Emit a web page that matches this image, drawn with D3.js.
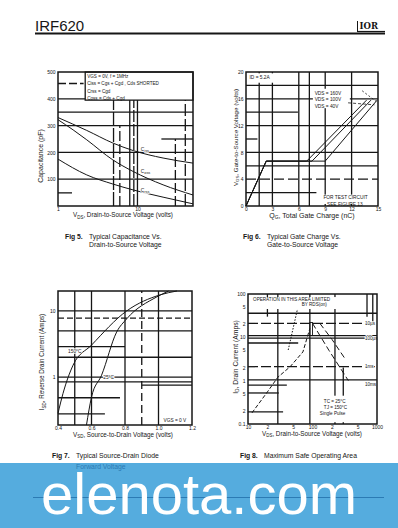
<!DOCTYPE html>
<html>
<head>
<meta charset="utf-8">
<script src="https://cdn.jsdelivr.net/npm/d3@7"></script>
<style>
  body { margin: 0; background: #fff; }
  svg { display: block; font-family: "Liberation Sans", Arial, sans-serif; }
</style>
</head>
<body>
<svg id="page" width="398" height="528"></svg>
<script>
// Fig 5 - capacitance vs drain-source voltage (pF)
const capVds = [1, 2.3, 4.9, 8.8, 21, 50];
const cissPf = [330, 282, 235, 207, 179, 160];
const cossVds = [1, 1.55, 2.3, 4.9, 8.8, 21, 50];
const cossPf = [322, 284, 247, 172, 129, 79, 41];
const crssPf = [175, 116, 82, 60, 33, 8];
const capTicks = [100, 200, 300, 400, 500];
const capVdsTicks = [1, 10];
const capLegend = ["VGS = 0V,   f = 1MHz", "Ciss = Cgs + Cgd ,  Cds SHORTED", "Crss = Cgd", "Coss = Cds + Cgd"];

// Fig 6 - gate charge
const gateQ40 = [0, 2.3, 6.9, 13.7];
const gateQ100 = [0, 2.3, 7.5, 14.2];
const gateQ160 = [0, 2.3, 9.0, 14.9];
const gateVgs = [0, 6.7, 6.7, 15.8];
const gateQTicks = [0, 3, 6, 9, 12, 15];
const gateVTicks = [0, 4, 8, 12, 16, 20];
const gateLegend = ["VDS = 160V", "VDS = 100V", "VDS = 40V"];

// Fig 7 - source-drain diode
const vsd150 = [0.40, 0.43, 0.49, 0.60, 0.81, 1.01, 1.11];
const isd150 = [0.285, 0.57, 1.52, 3.05, 10, 17.5, 20];
const vsd25 = [0.57, 0.60, 0.66, 0.75, 0.81, 0.99, 1.06];
const isd25 = [0.19, 0.50, 1.07, 4.8, 7.6, 16.3, 20];
const vsdTicks = [0.4, 0.6, 0.8, 1.0, 1.2];
const isdTicks = [1, 10];

// Fig 8 - safe operating area
const soaLimitV = [11.5, 20, 29, 45, 71, 91];
const soaLimitI = [0.18, 0.55, 1.2, 2.1, 4.6, 16];
const soaEdgeV = [42, 64];
const soaEdgeI = [5.1, 81];
const soa100usV = [100, 180, 360];
const soa100usI = [21, 5, 1.0];
const soa1msV = [130, 200, 320];
const soa1msI = [21, 9, 3.2];
const soaXTicks = [10, 20, 50, 100, 200, 500, 1000];
const soaXLabels = ["10", "2", "5", "100", "2", "5", "1000"];
const soaYTicks = [0.1, 0.2, 0.5, 1, 2, 5, 10, 20, 50, 100];
const soaYLabels = ["0.1", "2", "5", "1", "2", "5", "10", "2", "5", "100"];
const soaPulses = ["10µs", "100µs", "1ms", "10ms"];

const svg = d3.select("#page");
const ink = "#161616";

// grid entries: a number = full line, [value, from, to, dash] = segment
function grid(g, x, y, vert, horiz) {
  const norm = (d, dom) => Array.isArray(d)
    ? {v: d[0], a: d[1] ?? dom[0], b: d[2] ?? dom[1], dash: d[3]}
    : {v: d, a: dom[0], b: dom[1]};
  g.selectAll(null).data(vert.map(d => norm(d, y.domain()))).join("line")
    .attr("x1", d => x(d.v)).attr("x2", d => x(d.v))
    .attr("y1", d => y(d.a)).attr("y2", d => y(d.b))
    .attr("stroke", ink).attr("stroke-width", 1.3)
    .attr("stroke-dasharray", d => d.dash || null);
  g.selectAll(null).data(horiz.map(d => norm(d, x.domain()))).join("line")
    .attr("y1", d => y(d.v)).attr("y2", d => y(d.v))
    .attr("x1", d => x(d.a)).attr("x2", d => x(d.b))
    .attr("stroke", ink).attr("stroke-width", 1.3)
    .attr("stroke-dasharray", d => d.dash || null);
}

function frame(g, x, y) {
  const [x0, x1] = x.range(), [y0, y1] = y.range();
  g.append("rect").attr("x", x0).attr("y", y1)
    .attr("width", x1 - x0).attr("height", y0 - y1)
    .attr("fill", "none").attr("stroke", ink).attr("stroke-width", 1.5);
}

function axes(g, x, y, xt, xl, yt, yl) {
  g.append("g").attr("transform", `translate(0,${y.range()[0]})`)
    .call(d3.axisBottom(x).tickValues(xt).tickFormat((d, i) => xl[i]).tickSize(0).tickPadding(1));
  g.append("g").attr("transform", `translate(${x.range()[0]},0)`)
    .call(d3.axisLeft(y).tickValues(yt).tickFormat((d, i) => yl[i]).tickSize(0).tickPadding(2.5));
  g.selectAll(".domain").remove();
  g.selectAll(".tick text").attr("font-size", 5).attr("fill", ink)
    .attr("font-family", "Liberation Sans, Arial, sans-serif");
}

function subLabel(g, px, py, main, sub, rest, size, rotate) {
  const t = g.append("text").attr("font-size", size).attr("text-anchor", "middle").attr("fill", ink)
    .attr("transform", `translate(${px},${py})` + (rotate ? " rotate(-90)" : ""));
  t.append("tspan").text(main);
  if (sub) t.append("tspan").attr("font-size", size * 0.7).attr("dy", size * 0.25).text(sub);
  t.append("tspan").attr("dy", sub ? -size * 0.25 : 0).text(rest);
}

function caption(num, px, py, lines) {
  const g = svg.append("g").attr("font-size", 6.8).attr("fill", ink);
  g.append("text").attr("x", px).attr("y", py).attr("font-weight", "bold").text(`Fig ${num}.`);
  lines.forEach((s, i) => g.append("text").attr("x", px + 24).attr("y", py + i * 8.5).text(s));
}

function tiny(g, px, py, s, size = 4.8, anchor = "start") {
  return g.append("text").attr("x", px).attr("y", py).attr("font-size", size)
    .attr("text-anchor", anchor).attr("fill", ink).text(s);
}

// ---------- header ----------
svg.append("text").attr("x", 35).attr("y", 30.5).attr("font-size", 15).attr("fill", ink).text("IRF620");
svg.append("line").attr("x1", 35).attr("x2", 385).attr("y1", 33.5).attr("y2", 33.5)
  .attr("stroke", ink).attr("stroke-width", 2);
const logo = svg.append("g");
logo.append("line").attr("x1", 357.5).attr("x2", 357.5).attr("y1", 21).attr("y2", 31).attr("stroke", ink).attr("stroke-width", 1);
logo.append("text").attr("x", 359.5).attr("y", 29).attr("font-size", 8.5).attr("font-weight", "bold")
  .attr("font-family", "DejaVu Serif, serif").attr("fill", ink).text("IOR");
logo.append("line").attr("x1", 357).attr("x2", 385).attr("y1", 31.5).attr("y2", 31.5).attr("stroke", ink).attr("stroke-width", 1.2);

// ---------- Fig 5 ----------
{
  const g = svg.append("g");
  const x = d3.scaleLog([1, 50], [58, 193]);
  const y = d3.scaleLinear([0, 500], [206, 72]);
  grid(g, x, y,
    [[5, 0, 400, "14,2"], [6, 0, 300, "10,3"], [8, 0, 400], [9, 0, 400, "12,2"], [10, 0, 400], [30, 0, 250, "10,3"], [40, 0, 400, "12,3"]],
    [100, 200, 300, 350, 400, [457, 1, 2.1, "8,3"], [250, 20, 50], [49, 1, 1.5]]);
  // legend box
  g.append("rect").attr("x", x(2.2)).attr("y", y(500)).attr("width", x(50) - x(2.2)).attr("height", y(395) - y(500))
    .attr("fill", "#fff").attr("stroke", ink).attr("stroke-width", 1.3);
  capLegend.forEach((s, i) => tiny(g, x(2.2) + 2, y(500) + 6 + i * 7.4, s, 4.6));
  const line = d3.line().x(d => x(d[0])).y(d => y(d[1])).curve(d3.curveMonotoneX);
  [d3.zip(capVds, cissPf), d3.zip(cossVds, cossPf), d3.zip(capVds, crssPf)].forEach(s =>
    g.append("path").attr("d", line(s)).attr("fill", "none").attr("stroke", ink).attr("stroke-width", 1));
  [["C", "iss", 205], ["C", "oss", 125], ["C", "rss", 52]].forEach(([a, b, v]) => {
    const t = g.append("text").attr("x", x(11)).attr("y", y(v)).attr("font-size", 5).attr("fill", ink)
      .attr("stroke", "#fff").attr("stroke-width", 1.5).attr("paint-order", "stroke");
    t.append("tspan").text(a);
    t.append("tspan").attr("font-size", 3.8).attr("dy", 1).text(b);
  });
  frame(g, x, y);
  axes(g, x, y, capVdsTicks, ["1", "10"], capTicks, capTicks.map(String));
  subLabel(g, 43, 156, "Capacitance (pF)", "", "", 7, true);
  subLabel(g, 123, 217, "V", "DS", ", Drain-to-Source Voltage (volts)", 6.3, false);
  caption(5, 65, 238.5, ["Typical Capacitance Vs.", "Drain-to-Source Voltage"]);
}

// ---------- Fig 6 ----------
{
  const g = svg.append("g");
  const x = d3.scaleLinear([0, 15], [246, 378]);
  const y = d3.scaleLinear([0, 20], [206, 72]);
  grid(g, x, y, [1.5, 3, 6, 7.2, 9, 12],
    [6, 8, 12, 16, 18, [4, 0, 15, "10,4"], [14, 0, 5.9], [10, 0, 1.3], [2, 0, 8]]);
  // label backgrounds
  g.append("rect").attr("x", x(7.6)).attr("y", y(17.5)).attr("width", x(11.8) - x(7.6)).attr("height", y(14.6) - y(17.5)).attr("fill", "#fff");
  g.append("rect").attr("x", x(8.5)).attr("y", y(1.7)).attr("width", x(14.5) - x(8.5)).attr("height", y(0.3) - y(1.7)).attr("fill", "#fff");
  g.append("rect").attr("x", x(0.3)).attr("y", y(19.8)).attr("width", x(4) - x(0.3)).attr("height", y(18.4) - y(19.8)).attr("fill", "#fff");
  const line = d3.line().x(d => x(d[0])).y(d => y(d[1]));
  [gateQ40, gateQ100, gateQ160].forEach(q =>
    g.append("path").attr("d", line(d3.zip(q, gateVgs))).attr("fill", "none").attr("stroke", ink).attr("stroke-width", 1));
  g.append("path").attr("d", line([[11.6, 15.4], [14.6, 15.1]])).attr("fill", "none")
    .attr("stroke", ink).attr("stroke-width", 0.8).attr("stroke-dasharray", "3,2");
  g.append("path").attr("d", line([[13.2, 17.2], [14.8, 15.6]])).attr("fill", "none")
    .attr("stroke", ink).attr("stroke-width", 0.8).attr("stroke-dasharray", "2,2");
  tiny(g, x(0.4), y(19.0), "ID = 5.2A", 4.8);
  gateLegend.forEach((s, i) => tiny(g, x(7.8), y(16.6) + i * 6.5, s, 4.8));
  tiny(g, x(8.8), y(1.0), "FOR TEST CIRCUIT", 4.8);
  tiny(g, x(9.2), y(0.5) + 3, "SEE FIGURE 13", 4.8);
  frame(g, x, y);
  axes(g, x, y, gateQTicks, gateQTicks.map(String), gateVTicks, gateVTicks.map(String));
  subLabel(g, 237.5, 137.5, "V", "GS", ", Gate-to-Source Voltage (volts)", 6.2, true);
  subLabel(g, 312, 217.5, "Q", "G", ", Total Gate Charge (nC)", 7, false);
  caption(6, 243, 238.5, ["Typical Gate Charge Vs.", "Gate-to-Source Voltage"]);
}

// ---------- Fig 7 ----------
{
  const g = svg.append("g");
  const x = d3.scaleLinear([0.4, 1.2], [58, 192]);
  const y = d3.scaleLog([0.19, 20], [425, 291]);
  grid(g, x, y, [0.5, 0.6, 0.8, 1.0, [0.9, 0.19, 20, "8,4"]],
    [10, 5, 2, 1, 0.85, [7.8, 0.4, 1.2, "6,3"], [2.9, 0.4, 0.8], [0.76, 0.9, 1.2], [0.49, 0.4, 0.77], [0.28, 0.4, 0.68]]);
  const line = d3.line().x(d => x(d[0])).y(d => y(d[1])).curve(d3.curveMonotoneX);
  [d3.zip(vsd150, isd150), d3.zip(vsd25, isd25)].forEach(s =>
    g.append("path").attr("d", line(s)).attr("fill", "none").attr("stroke", ink).attr("stroke-width", 1));
  tiny(g, x(0.46), y(2.3), "150°C", 4.8).attr("stroke", "#fff").attr("stroke-width", 1.5).attr("paint-order", "stroke");
  tiny(g, x(0.67), y(0.95), "25°C", 4.8).attr("stroke", "#fff").attr("stroke-width", 1.5).attr("paint-order", "stroke");
  g.append("rect").attr("x", x(1.02)).attr("y", y(0.27)).attr("width", x(1.19) - x(1.02)).attr("height", y(0.2) - y(0.27)).attr("fill", "#fff");
  tiny(g, x(1.03), y(0.2) - 1.5, "VGS = 0 V", 4.8);
  frame(g, x, y);
  axes(g, x, y, vsdTicks, vsdTicks.map(d => d.toFixed(1)), isdTicks, ["1", "10"]);
  subLabel(g, 44, 362, "I", "SD", ", Reverse Drain Current (Amps)", 6.3, true);
  subLabel(g, 123, 436.5, "V", "SD", ", Source-to-Drain Voltage (volts)", 6.3, false);
  caption(7, 52, 458, ["Typical Source-Drain Diode"]);
}

// ---------- Fig 8 ----------
{
  const g = svg.append("g");
  const x = d3.scaleLog([10, 1000], [248, 377]);
  const y = d3.scaleLog([0.1, 100], [424, 294]);
  grid(g, x, y, [29, 91, 223, [20, 30, 100], [700, 30, 100], [860, 20, 100], [300, 0.1, 2]],
    [36, 11, 9.6, 1.04, [21, 10, 1000, "10,3"], [2.1, 10, 1000, "10,3"], [7.4, 10, 60], [0.79, 10, 40], [0.52, 10, 30], [0.19, 10, 35]]);
  const line = d3.line().x(d => x(d[0])).y(d => y(d[1]));
  const curve = (v, i, dash) => g.append("path").attr("d", line(d3.zip(v, i))).attr("fill", "none")
    .attr("stroke", ink).attr("stroke-width", 1).attr("stroke-dasharray", dash);
  curve(soaLimitV, soaLimitI, "4,2");
  curve(soaEdgeV, soaEdgeI, "1.5,1.5");
  curve(soa100usV, soa100usI, "6,3");
  curve(soa1msV, soa1msI, "6,3");
  g.append("rect").attr("x", x(91)).attr("y", y(22)).attr("width", x(100) - x(91)).attr("height", y(11) - y(22))
    .attr("fill", "none").attr("stroke", ink).attr("stroke-width", 0.9);
  // label backgrounds
  g.append("rect").attr("x", x(11)).attr("y", y(85)).attr("width", x(600) - x(11)).attr("height", y(45) - y(85)).attr("fill", "#fff");
  g.append("rect").attr("x", x(105)).attr("y", y(0.45)).attr("width", x(560) - x(105)).attr("height", y(0.11) - y(0.45)).attr("fill", "#fff");
  tiny(g, x(12), y(70), "OPERATION IN THIS AREA LIMITED", 4.6);
  tiny(g, x(68), y(52), "BY RDS(on)", 4.6);
  soaPulses.forEach((s, i) => tiny(g, x(650), y([21, 9.6, 2.1, 0.8][i]) + 1.5, s, 4.6)
    .attr("stroke", "#fff").attr("stroke-width", 1.5).attr("paint-order", "stroke"));
  tiny(g, x(150), y(0.3), "TC = 25°C", 4.6);
  tiny(g, x(150), y(0.3) + 6, "TJ = 150°C", 4.6);
  tiny(g, x(130), y(0.3) + 12, "Single Pulse", 4.6);
  frame(g, x, y);
  axes(g, x, y, soaXTicks, soaXLabels, soaYTicks, soaYLabels);
  subLabel(g, 237.5, 357, "I", "D", ", Drain Current (Amps)", 6.8, true);
  subLabel(g, 312, 435.5, "V", "DS", ", Drain-to-Source Voltage (volts)", 6.3, false);
  caption(8, 240, 458, ["Maximum Safe Operating Area"]);
}

// ---------- watermark banner ----------
{
  const g = svg.append("g");
  g.append("rect").attr("x", 0).attr("y", 463).attr("width", 398).attr("height", 65).attr("fill", "#55acde");
  g.append("line").attr("x1", 33).attr("x2", 384).attr("y1", 497.5).attr("y2", 497.5)
    .attr("stroke", "#2c7bb4").attr("stroke-width", 1);
  g.append("text").attr("x", 199).attr("y", 514).attr("text-anchor", "middle")
    .attr("font-size", 58).attr("fill", "#fff").text("elenota.com");
  // second caption line of Fig 7 shows through the banner
  g.append("text").attr("x", 76).attr("y", 468.5).attr("font-size", 6.8).attr("fill", "#2c7bb4").text("Forward Voltage");
}
</script>
</body>
</html>
